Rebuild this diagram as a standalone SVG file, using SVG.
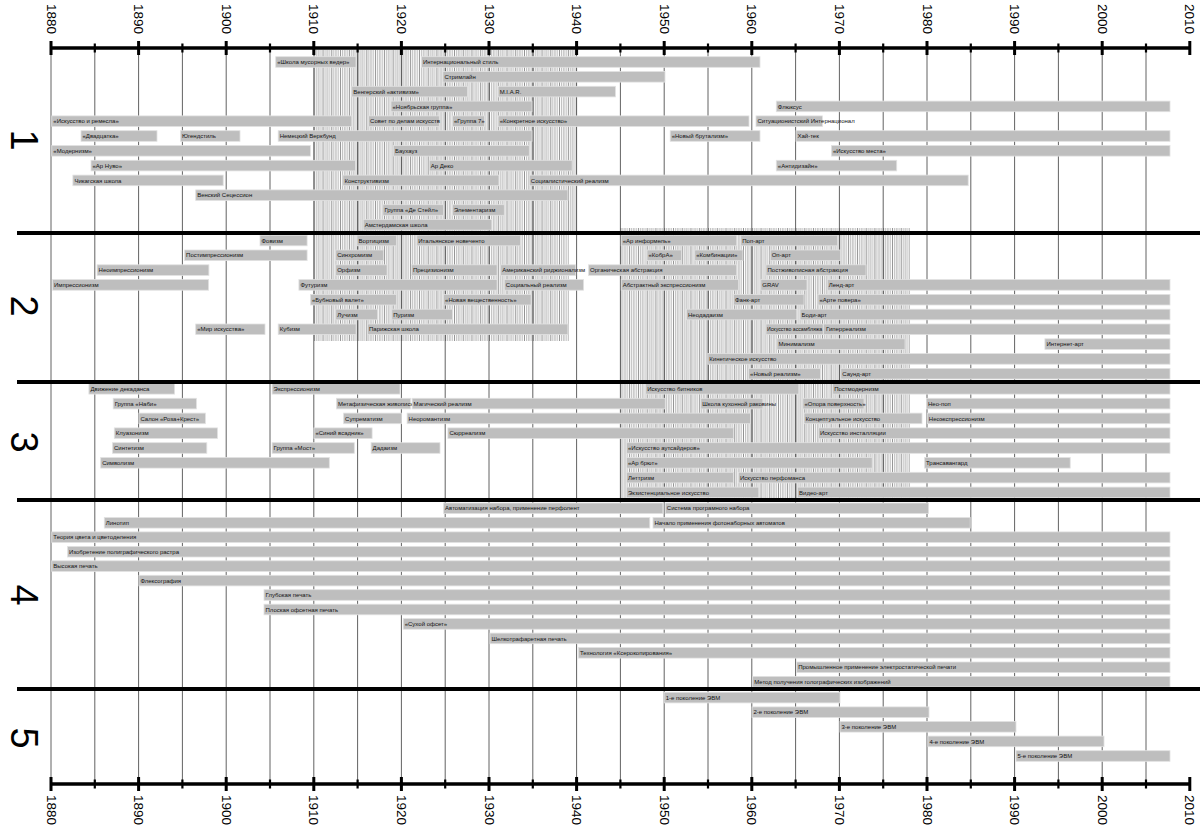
<svg xmlns="http://www.w3.org/2000/svg" width="1200" height="827" viewBox="0 0 1200 827">
<style>
.b rect{fill:#bebebe;stroke:#e2e2e2;stroke-width:0.8}
.b text{font-family:"Liberation Sans",Arial,sans-serif;font-size:6px;fill:#111}
.b text.sm{font-size:5.2px}
.yr{font-family:"Liberation Sans",Arial,sans-serif;font-size:13.5px;fill:#000;dominant-baseline:central}
.num{font-family:"Liberation Sans",Arial,sans-serif;font-size:38px;fill:#000;text-anchor:middle;dominant-baseline:central}
.grid{stroke:#3a3a3a;stroke-width:0.8;fill:none}
.div{stroke:#000;stroke-width:4}
.axis{stroke:#000;stroke-width:3.5}
.maj{stroke:#000;stroke-width:3}
.min{stroke:#000;stroke-width:2.2}
</style>
<defs>
<pattern id="hatch" x="51" y="0" width="8.76" height="20" patternUnits="userSpaceOnUse">
<line x1="0.4" y1="0" x2="0.4" y2="20" stroke="#333" stroke-width="0.6"/>
<line x1="2.6" y1="0" x2="2.6" y2="20" stroke="#888" stroke-width="0.6"/>
<line x1="4.8" y1="0" x2="4.8" y2="20" stroke="#666" stroke-width="0.6"/>
<line x1="7" y1="0" x2="7" y2="20" stroke="#888" stroke-width="0.6"/>
</pattern>
</defs>
<rect width="1200" height="827" fill="#fff"/>
<g id="hatching">
<rect x="314" y="50" width="263" height="182" fill="url(#hatch)"/>
<rect x="314" y="235" width="254.6" height="106" fill="url(#hatch)"/>
<rect x="620.4" y="228" width="289.6" height="272" fill="url(#hatch)"/>
</g>
<g id="gridlines">
<path class="grid" d="M51 48V784M94.8 48V784M138.6 48V784M182.4 48V784M226.2 48V784M270 48V784M313.8 48V784M357.6 48V784M401.4 48V784M445.2 48V784M489 48V784M532.8 48V784M576.6 48V784M620.4 48V784M664.2 48V784M708 48V784M751.8 48V784M795.6 48V784M839.4 48V784M883.2 48V784M927 48V784M970.8 48V784M1014.6 48V784M1058.4 48V784M1102.2 48V784M1146 48V784"/>
</g>
<g id="connectors"></g>
<g id="section1">
<g id="s1_ashcan" class="b" transform="translate(0,62)"><rect x="275.7" y="-5.3" width="80.3" height="10.6"/><text x="277.2" y="2.1">«Школа мусорных ведер»</text></g>
<g id="s1_intl" class="b" transform="translate(0,62)"><rect x="421.4" y="-5.3" width="338.6" height="10.6"/><text x="422.9" y="2.1">Интернациональный стиль</text></g>
<g id="s1_stream" class="b" transform="translate(0,76.8)"><rect x="442.9" y="-5.3" width="222.1" height="10.6"/><text x="444.4" y="2.1">Стримлайн</text></g>
<g id="s1_hung" class="b" transform="translate(0,91.6)"><rect x="351.8" y="-5.3" width="115.7" height="10.6"/><text x="353.3" y="2.1">Венгерский «активизм»</text></g>
<g id="s1_miar" class="b" transform="translate(0,91.6)"><rect x="498.2" y="-5.3" width="117.3" height="10.6"/><text x="499.7" y="2.1">M.I.A.R.</text></g>
<g id="s1_nov" class="b" transform="translate(0,106.4)"><rect x="391" y="-5.3" width="141" height="10.6"/><text x="392.5" y="2.1">«Ноябрьская группа»</text></g>
<g id="s1_fluxus" class="b" transform="translate(0,106.4)"><rect x="776.3" y="-5.3" width="393.7" height="10.6"/><text x="777.8" y="2.1">Флюксус</text></g>
<g id="s1_arts" class="b" transform="translate(0,121.2)"><rect x="51.8" y="-5.3" width="300" height="10.6"/><text x="53.3" y="2.1">«Искусство и ремесла»</text></g>
<g id="s1_sovet" class="b" transform="translate(0,121.2)"><rect x="368.6" y="-5.3" width="70.7" height="10.6"/><text x="370.1" y="2.1">Совет по делам искусств</text></g>
<g id="s1_g7" class="b" transform="translate(0,121.2)"><rect x="452.5" y="-5.3" width="32.1" height="10.6"/><text x="454" y="2.1">«Группа 7»</text></g>
<g id="s1_konk" class="b" transform="translate(0,121.2)"><rect x="498.2" y="-5.3" width="250.8" height="10.6"/><text x="499.7" y="2.1">«Конкретное искусство»</text></g>
<g id="s1_situ" class="b" transform="translate(0,121.2)"><rect x="756" y="-5.3" width="66.4" height="10.6"/><text x="757.5" y="2.1">Ситуационистский Интернационал</text></g>
<g id="s1_20" class="b" transform="translate(0,136)"><rect x="81" y="-5.3" width="76" height="10.6"/><text x="82.5" y="2.1">«Двадцатка»</text></g>
<g id="s1_jugend" class="b" transform="translate(0,136)"><rect x="180.4" y="-5.3" width="59.6" height="10.6"/><text x="181.9" y="2.1">Югендстиль</text></g>
<g id="s1_werk" class="b" transform="translate(0,136)"><rect x="278.2" y="-5.3" width="253.8" height="10.6"/><text x="279.7" y="2.1">Немецкий Веркбунд</text></g>
<g id="s1_brut" class="b" transform="translate(0,136)"><rect x="670.2" y="-5.3" width="89.8" height="10.6"/><text x="671.7" y="2.1">«Новый брутализм»</text></g>
<g id="s1_hitech" class="b" transform="translate(0,136)"><rect x="796" y="-5.3" width="374" height="10.6"/><text x="797.5" y="2.1">Хай-тек</text></g>
<g id="s1_modern" class="b" transform="translate(0,150.8)"><rect x="51.8" y="-5.3" width="258.6" height="10.6"/><text x="53.3" y="2.1">«Модернизм»</text></g>
<g id="s1_bauhaus" class="b" transform="translate(0,150.8)"><rect x="393.6" y="-5.3" width="135.7" height="10.6"/><text x="395.1" y="2.1">Баухауз</text></g>
<g id="s1_site" class="b" transform="translate(0,150.8)"><rect x="831.4" y="-5.3" width="338.6" height="10.6"/><text x="832.9" y="2.1">«Искусство места»</text></g>
<g id="s1_nouveau" class="b" transform="translate(0,165.6)"><rect x="91" y="-5.3" width="264.4" height="10.6"/><text x="92.5" y="2.1">«Ар Нуво»</text></g>
<g id="s1_deco" class="b" transform="translate(0,165.6)"><rect x="429.3" y="-5.3" width="142.8" height="10.6"/><text x="430.8" y="2.1">Ар Деко</text></g>
<g id="s1_anti" class="b" transform="translate(0,165.6)"><rect x="776.3" y="-5.3" width="120.4" height="10.6"/><text x="777.8" y="2.1">«Антидизайн»</text></g>
<g id="s1_chicago" class="b" transform="translate(0,180.4)"><rect x="72.9" y="-5.3" width="150.3" height="10.6"/><text x="74.4" y="2.1">Чикагская школа</text></g>
<g id="s1_constr" class="b" transform="translate(0,180.4)"><rect x="342.9" y="-5.3" width="156" height="10.6"/><text x="344.4" y="2.1">Конструктивизм</text></g>
<g id="s1_socreal" class="b" transform="translate(0,180.4)"><rect x="529.3" y="-5.3" width="438.9" height="10.6"/><text x="530.8" y="2.1">Социалистический реализм</text></g>
<g id="s1_secession" class="b" transform="translate(0,195.2)"><rect x="195.7" y="-5.3" width="372.2" height="10.6"/><text x="197.2" y="2.1">Венский Сецессион</text></g>
<g id="s1_stijl" class="b" transform="translate(0,210)"><rect x="382.9" y="-5.3" width="60.7" height="10.6"/><text x="384.4" y="2.1">Группа «Де Стейл»</text></g>
<g id="s1_elem" class="b" transform="translate(0,210)"><rect x="452.5" y="-5.3" width="51.8" height="10.6"/><text x="454" y="2.1">Элементаризм</text></g>
<g id="s1_amst" class="b" transform="translate(0,224.8)"><rect x="363.2" y="-5.3" width="128.6" height="10.6"/><text x="364.7" y="2.1">Амстердамская школа</text></g>
</g>
<g id="section2">
<g id="s2_fauv" class="b" transform="translate(0,240.5)"><rect x="260" y="-5.3" width="47.1" height="10.6"/><text x="261.5" y="2.1">Фовизм</text></g>
<g id="s2_vort" class="b" transform="translate(0,240.5)"><rect x="357.1" y="-5.3" width="39.3" height="10.6"/><text x="358.6" y="2.1">Вортицизм</text></g>
<g id="s2_nov" class="b" transform="translate(0,240.5)"><rect x="416.8" y="-5.3" width="103.6" height="10.6"/><text x="418.3" y="2.1">Итальянское новеченто</text></g>
<g id="s2_inf" class="b" transform="translate(0,240.5)"><rect x="621.2" y="-5.3" width="115.5" height="10.6"/><text x="622.7" y="2.1">«Ар информель»</text></g>
<g id="s2_pop" class="b" transform="translate(0,240.5)"><rect x="740.8" y="-5.3" width="96.8" height="10.6"/><text x="742.3" y="2.1">Поп-арт</text></g>
<g id="s2_postimp" class="b" transform="translate(0,255.3)"><rect x="184.6" y="-5.3" width="122.5" height="10.6"/><text x="186.1" y="2.1">Постимпрессионизм</text></g>
<g id="s2_synch" class="b" transform="translate(0,255.3)"><rect x="335.7" y="-5.3" width="47.9" height="10.6"/><text x="337.2" y="2.1">Синхромизм</text></g>
<g id="s2_cobra" class="b" transform="translate(0,255.3)"><rect x="647" y="-5.3" width="34.6" height="10.6"/><text x="648.5" y="2.1">«КобрА»</text></g>
<g id="s2_comb" class="b" transform="translate(0,255.3)"><rect x="694.7" y="-5.3" width="48.2" height="10.6"/><text x="696.2" y="2.1">«Комбинации»</text></g>
<g id="s2_op" class="b" transform="translate(0,255.3)"><rect x="770.2" y="-5.3" width="70.2" height="10.6"/><text x="771.7" y="2.1">Оп-арт</text></g>
<g id="s2_neoimp" class="b" transform="translate(0,270.1)"><rect x="97.1" y="-5.3" width="111.8" height="10.6"/><text x="98.6" y="2.1">Неоимпрессионизм</text></g>
<g id="s2_orph" class="b" transform="translate(0,270.1)"><rect x="335.7" y="-5.3" width="51.4" height="10.6"/><text x="337.2" y="2.1">Орфизм</text></g>
<g id="s2_prec" class="b" transform="translate(0,270.1)"><rect x="411.4" y="-5.3" width="85.7" height="10.6"/><text x="412.9" y="2.1">Прецизионизм</text></g>
<g id="s2_amreg" class="b" transform="translate(0,270.1)"><rect x="500.7" y="-5.3" width="75" height="10.6"/><text x="502.2" y="2.1">Американский риджионализм</text></g>
<g id="s2_org" class="b" transform="translate(0,270.1)"><rect x="588.6" y="-5.3" width="148.1" height="10.6"/><text x="590.1" y="2.1">Органическая абстракция</text></g>
<g id="s2_postpaint" class="b" transform="translate(0,270.1)"><rect x="766" y="-5.3" width="100" height="10.6"/><text x="767.5" y="2.1">Постживописная абстракция</text></g>
<g id="s2_imp" class="b" transform="translate(0,284.9)"><rect x="52.5" y="-5.3" width="156.1" height="10.6"/><text x="54" y="2.1">Импрессионизм</text></g>
<g id="s2_fut" class="b" transform="translate(0,284.9)"><rect x="298.9" y="-5.3" width="198.2" height="10.6"/><text x="300.4" y="2.1">Футуризм</text></g>
<g id="s2_socr" class="b" transform="translate(0,284.9)"><rect x="504.3" y="-5.3" width="79.3" height="10.6"/><text x="505.8" y="2.1">Социальный реализм</text></g>
<g id="s2_abex" class="b" transform="translate(0,284.9)"><rect x="621.2" y="-5.3" width="117.2" height="10.6"/><text x="622.7" y="2.1">Абстрактный экспрессионизм</text></g>
<g id="s2_grav" class="b" transform="translate(0,284.9)"><rect x="760.8" y="-5.3" width="46.2" height="10.6"/><text x="762.3" y="2.1">GRAV</text></g>
<g id="s2_land" class="b" transform="translate(0,284.9)"><rect x="827.3" y="-5.3" width="342.7" height="10.6"/><text x="828.8" y="2.1">Ленд-арт</text></g>
<g id="s2_jack" class="b" transform="translate(0,299.7)"><rect x="310.4" y="-5.3" width="86" height="10.6"/><text x="311.9" y="2.1">«Бубновый валет»</text></g>
<g id="s2_sachl" class="b" transform="translate(0,299.7)"><rect x="443.6" y="-5.3" width="87.5" height="10.6"/><text x="445.1" y="2.1">«Новая вещественность»</text></g>
<g id="s2_funk" class="b" transform="translate(0,299.7)"><rect x="733.5" y="-5.3" width="70.5" height="10.6"/><text x="735" y="2.1">Фанк-арт</text></g>
<g id="s2_povera" class="b" transform="translate(0,299.7)"><rect x="818" y="-5.3" width="352" height="10.6"/><text x="819.5" y="2.1">«Арте повера»</text></g>
<g id="s2_ray" class="b" transform="translate(0,314.5)"><rect x="335.7" y="-5.3" width="41.8" height="10.6"/><text x="337.2" y="2.1">Лучизм</text></g>
<g id="s2_pur" class="b" transform="translate(0,314.5)"><rect x="391.8" y="-5.3" width="60.7" height="10.6"/><text x="393.3" y="2.1">Пуризм</text></g>
<g id="s2_neodada" class="b" transform="translate(0,314.5)"><rect x="686.5" y="-5.3" width="110.2" height="10.6"/><text x="688" y="2.1">Неодадаизм</text></g>
<g id="s2_body" class="b" transform="translate(0,314.5)"><rect x="800" y="-5.3" width="370" height="10.6"/><text x="801.5" y="2.1">Боди-арт</text></g>
<g id="s2_mir" class="b" transform="translate(0,329.3)"><rect x="195.7" y="-5.3" width="69.3" height="10.6"/><text x="197.2" y="2.1">«Мир искусства»</text></g>
<g id="s2_cub" class="b" transform="translate(0,329.3)"><rect x="278.2" y="-5.3" width="77.9" height="10.6"/><text x="279.7" y="2.1">Кубизм</text></g>
<g id="s2_paris" class="b" transform="translate(0,329.3)"><rect x="367.5" y="-5.3" width="200.4" height="10.6"/><text x="369" y="2.1">Парижская школа</text></g>
<g id="s2_assem" class="b" transform="translate(0,329.3)"><rect x="766" y="-5.3" width="57.3" height="10.6"/><text class="sm" x="767" y="2">Искусство ассамбляжа</text></g>
<g id="s2_hyper" class="b" transform="translate(0,329.3)"><rect x="823.3" y="-5.3" width="346.7" height="10.6"/><text x="826" y="2.1">Гиперреализм</text></g>
<g id="s2_min" class="b" transform="translate(0,344.1)"><rect x="777" y="-5.3" width="128" height="10.6"/><text x="778.5" y="2.1">Минимализм</text></g>
<g id="s2_net" class="b" transform="translate(0,344.1)"><rect x="1044.9" y="-5.3" width="125.1" height="10.6"/><text x="1046.4" y="2.1">Интернет-арт</text></g>
<g id="s2_kin" class="b" transform="translate(0,358.9)"><rect x="707.8" y="-5.3" width="462.2" height="10.6"/><text x="709.3" y="2.1">Кинетическое искусство</text></g>
<g id="s2_nreal" class="b" transform="translate(0,373.7)"><rect x="748.6" y="-5.3" width="71.8" height="10.6"/><text x="750.1" y="2.1">«Новый реализм»</text></g>
<g id="s2_sound" class="b" transform="translate(0,373.7)"><rect x="840.8" y="-5.3" width="329.2" height="10.6"/><text x="842.3" y="2.1">Саунд-арт</text></g>
</g>
<g id="section3">
<g id="s3_dec" class="b" transform="translate(0,388.8)"><rect x="88.9" y="-5.3" width="85.7" height="10.6"/><text x="90.4" y="2.1">Движение декаданса</text></g>
<g id="s3_expr" class="b" transform="translate(0,388.8)"><rect x="272.1" y="-5.3" width="127.9" height="10.6"/><text x="273.6" y="2.1">Экспрессионизм</text></g>
<g id="s3_beat" class="b" transform="translate(0,388.8)"><rect x="645.7" y="-5.3" width="153.1" height="10.6"/><text x="647.2" y="2.1">Искусство битников</text></g>
<g id="s3_postmod" class="b" transform="translate(0,388.8)"><rect x="832.7" y="-5.3" width="337.3" height="10.6"/><text x="834.2" y="2.1">Постмодернизм</text></g>
<g id="s3_nabi" class="b" transform="translate(0,403.6)"><rect x="113.2" y="-5.3" width="83.2" height="10.6"/><text x="114.7" y="2.1">Группа «Наби»</text></g>
<g id="s3_meta" class="b" transform="translate(0,403.6)"><rect x="336.4" y="-5.3" width="74.3" height="10.6"/><text x="337.9" y="2.1">Метафизическая живопись</text></g>
<g id="s3_magic" class="b" transform="translate(0,403.6)"><rect x="412.1" y="-5.3" width="253.2" height="10.6"/><text x="413.6" y="2.1">Магический реализм</text></g>
<g id="s3_kitchen" class="b" transform="translate(0,403.6)"><rect x="700.8" y="-5.3" width="62.1" height="10.6"/><text x="702.3" y="2.1">Школа кухонной раковины</text></g>
<g id="s3_support" class="b" transform="translate(0,403.6)"><rect x="802.9" y="-5.3" width="61.1" height="10.6"/><text x="804.4" y="2.1">«Опора поверхность»</text></g>
<g id="s3_neopop" class="b" transform="translate(0,403.6)"><rect x="926.5" y="-5.3" width="243.5" height="10.6"/><text x="928" y="2.1">Нео-поп</text></g>
<g id="s3_rose" class="b" transform="translate(0,418.4)"><rect x="138.9" y="-5.3" width="66.5" height="10.6"/><text x="140.4" y="2.1">Салон «Роза+Крест»</text></g>
<g id="s3_supr" class="b" transform="translate(0,418.4)"><rect x="343.6" y="-5.3" width="57.8" height="10.6"/><text x="345.1" y="2.1">Супрематизм</text></g>
<g id="s3_neorom" class="b" transform="translate(0,418.4)"><rect x="407.1" y="-5.3" width="343.5" height="10.6"/><text x="408.6" y="2.1">Неоромантизм</text></g>
<g id="s3_concept" class="b" transform="translate(0,418.4)"><rect x="804" y="-5.3" width="118" height="10.6"/><text x="805.5" y="2.1">Концептуальное искусство</text></g>
<g id="s3_neoexp" class="b" transform="translate(0,418.4)"><rect x="927.3" y="-5.3" width="242.7" height="10.6"/><text x="928.8" y="2.1">Неоэкспрессионизм</text></g>
<g id="s3_cloi" class="b" transform="translate(0,433.2)"><rect x="114.3" y="-5.3" width="103.2" height="10.6"/><text x="115.8" y="2.1">Клуазонизм</text></g>
<g id="s3_blue" class="b" transform="translate(0,433.2)"><rect x="313.9" y="-5.3" width="58.2" height="10.6"/><text x="315.4" y="2.1">«Синий всадник»</text></g>
<g id="s3_surr" class="b" transform="translate(0,433.2)"><rect x="447.9" y="-5.3" width="285.6" height="10.6"/><text x="449.4" y="2.1">Сюрреализм</text></g>
<g id="s3_inst" class="b" transform="translate(0,433.2)"><rect x="818.4" y="-5.3" width="351.6" height="10.6"/><text x="819.9" y="2.1">Искусство инсталляции</text></g>
<g id="s3_synt" class="b" transform="translate(0,448)"><rect x="112.5" y="-5.3" width="94.3" height="10.6"/><text x="114" y="2.1">Синтетизм</text></g>
<g id="s3_most" class="b" transform="translate(0,448)"><rect x="272.1" y="-5.3" width="82.2" height="10.6"/><text x="273.6" y="2.1">Группа «Мост»</text></g>
<g id="s3_dada" class="b" transform="translate(0,448)"><rect x="371.1" y="-5.3" width="68.9" height="10.6"/><text x="372.6" y="2.1">Дадаизм</text></g>
<g id="s3_outs" class="b" transform="translate(0,448)"><rect x="626.5" y="-5.3" width="543.5" height="10.6"/><text x="628" y="2.1">«Искусство аутсайдеров»</text></g>
<g id="s3_symb" class="b" transform="translate(0,462.8)"><rect x="100.7" y="-5.3" width="228.6" height="10.6"/><text x="102.2" y="2.1">Символизм</text></g>
<g id="s3_brut" class="b" transform="translate(0,462.8)"><rect x="626.5" y="-5.3" width="245.7" height="10.6"/><text x="628" y="2.1">«Ар брют»</text></g>
<g id="s3_trans" class="b" transform="translate(0,462.8)"><rect x="924.5" y="-5.3" width="145.7" height="10.6"/><text x="926" y="2.1">Трансавангард</text></g>
<g id="s3_lett" class="b" transform="translate(0,477.6)"><rect x="626.5" y="-5.3" width="107" height="10.6"/><text x="628" y="2.1">Леттризм</text></g>
<g id="s3_perf" class="b" transform="translate(0,477.6)"><rect x="738.4" y="-5.3" width="431.6" height="10.6"/><text x="739.9" y="2.1">Искусство перфоманса</text></g>
<g id="s3_exist" class="b" transform="translate(0,492.4)"><rect x="626.5" y="-5.3" width="132.3" height="10.6"/><text x="628" y="2.1">Экзистенциальное искусство</text></g>
<g id="s3_video" class="b" transform="translate(0,492.4)"><rect x="797.6" y="-5.3" width="372.4" height="10.6"/><text x="799.1" y="2.1">Видео-арт</text></g>
</g>
<g id="section4">
<g id="s4_auto" class="b" transform="translate(0,508.3)"><rect x="443.6" y="-5.3" width="219.3" height="10.6"/><text x="445.1" y="2.1">Автоматизация набора, применение перфолент</text></g>
<g id="s4_prog" class="b" transform="translate(0,508.3)"><rect x="665.3" y="-5.3" width="263.3" height="10.6"/><text x="666.8" y="2.1">Система програмного набора</text></g>
<g id="s4_lino" class="b" transform="translate(0,522.8)"><rect x="104.3" y="-5.3" width="545.5" height="10.6"/><text x="105.8" y="2.1">Линотип</text></g>
<g id="s4_photo" class="b" transform="translate(0,522.8)"><rect x="653" y="-5.3" width="317.2" height="10.6"/><text x="654.5" y="2.1">Начало применения фотонаборных автоматов</text></g>
<g id="s4_color" class="b" transform="translate(0,537.2)"><rect x="51.8" y="-5.3" width="1118.2" height="10.6"/><text x="53.3" y="2.1">Теория цвета и цветоделения</text></g>
<g id="s4_raster" class="b" transform="translate(0,551.7)"><rect x="67.5" y="-5.3" width="1102.5" height="10.6"/><text x="69" y="2.1">Изобретение полиграфического растра</text></g>
<g id="s4_letter" class="b" transform="translate(0,566.1)"><rect x="51.8" y="-5.3" width="1118.2" height="10.6"/><text x="53.3" y="2.1">Высокая печать</text></g>
<g id="s4_flexo" class="b" transform="translate(0,580.6)"><rect x="138.9" y="-5.3" width="1031.1" height="10.6"/><text x="140.4" y="2.1">Флексография</text></g>
<g id="s4_gravure" class="b" transform="translate(0,595)"><rect x="264" y="-5.3" width="906" height="10.6"/><text x="265.5" y="2.1">Глубокая печать</text></g>
<g id="s4_offset" class="b" transform="translate(0,609.5)"><rect x="264" y="-5.3" width="906" height="10.6"/><text x="265.5" y="2.1">Плоская офсетная печать</text></g>
<g id="s4_dry" class="b" transform="translate(0,623.9)"><rect x="403.2" y="-5.3" width="766.8" height="10.6"/><text x="404.7" y="2.1">«Сухой офсет»</text></g>
<g id="s4_silk" class="b" transform="translate(0,638.4)"><rect x="490" y="-5.3" width="680" height="10.6"/><text x="491.5" y="2.1">Шелкотрафаретная печать</text></g>
<g id="s4_xerox" class="b" transform="translate(0,652.8)"><rect x="578.4" y="-5.3" width="591.6" height="10.6"/><text x="579.9" y="2.1">Технология «Ксерокопирования»</text></g>
<g id="s4_electro" class="b" transform="translate(0,667.3)"><rect x="796.7" y="-5.3" width="373.3" height="10.6"/><text x="798.2" y="2.1">Промышленное применение электростатической печати</text></g>
<g id="s4_holo" class="b" transform="translate(0,681.7)"><rect x="752.7" y="-5.3" width="417.3" height="10.6"/><text x="754.2" y="2.1">Метод получения голографических изображений</text></g>
</g>
<g id="section5">
<g id="s5_g1" class="b" transform="translate(0,697.6)"><rect x="664.2" y="-5.3" width="175.8" height="10.6"/><text x="665.7" y="2.1">1-е поколение ЭВМ</text></g>
<g id="s5_g2" class="b" transform="translate(0,712.2)"><rect x="752" y="-5.3" width="177" height="10.6"/><text x="753.5" y="2.1">2-е поколение ЭВМ</text></g>
<g id="s5_g3" class="b" transform="translate(0,726.8)"><rect x="840" y="-5.3" width="176" height="10.6"/><text x="841.5" y="2.1">3-е поколение ЭВМ</text></g>
<g id="s5_g4" class="b" transform="translate(0,741.4)"><rect x="928" y="-5.3" width="176" height="10.6"/><text x="929.5" y="2.1">4-е поколение ЭВМ</text></g>
<g id="s5_g5" class="b" transform="translate(0,756)"><rect x="1016" y="-5.3" width="154" height="10.6"/><text x="1017.5" y="2.1">5-е поколение ЭВМ</text></g>
</g>
<g id="dividers">
<path class="div" d="M17 233H1200M17 382H1200M17 500H1200M17 689H1200"/>
</g>
<g id="axis-top">
<path class="axis" d="M51 48H1189.8"/>
<path class="maj" d="M51 41V55M138.6 41V55M226.2 41V55M313.8 41V55M401.4 41V55M489 41V55M576.6 41V55M664.2 41V55M751.8 41V55M839.4 41V55M927 41V55M1014.6 41V55M1102.2 41V55M1189.8 41V55"/>
<path class="min" d="M94.8 43.5V52.5M182.4 43.5V52.5M270 43.5V52.5M357.6 43.5V52.5M445.2 43.5V52.5M532.8 43.5V52.5M620.4 43.5V52.5M708 43.5V52.5M795.6 43.5V52.5M883.2 43.5V52.5M970.8 43.5V52.5M1058.4 43.5V52.5M1146 43.5V52.5"/>
<text class="yr" transform="translate(51,4) rotate(90)">1880</text>
<text class="yr" transform="translate(138.6,4) rotate(90)">1890</text>
<text class="yr" transform="translate(226.2,4) rotate(90)">1900</text>
<text class="yr" transform="translate(313.8,4) rotate(90)">1910</text>
<text class="yr" transform="translate(401.4,4) rotate(90)">1920</text>
<text class="yr" transform="translate(489,4) rotate(90)">1930</text>
<text class="yr" transform="translate(576.6,4) rotate(90)">1940</text>
<text class="yr" transform="translate(664.2,4) rotate(90)">1950</text>
<text class="yr" transform="translate(751.8,4) rotate(90)">1960</text>
<text class="yr" transform="translate(839.4,4) rotate(90)">1970</text>
<text class="yr" transform="translate(927,4) rotate(90)">1980</text>
<text class="yr" transform="translate(1014.6,4) rotate(90)">1990</text>
<text class="yr" transform="translate(1102.2,4) rotate(90)">2000</text>
<text class="yr" transform="translate(1189.8,4) rotate(90)">2010</text>
</g>
<g id="axis-bottom">
<path class="axis" d="M51 784H1189.8"/>
<path class="maj" d="M51 777V791M138.6 777V791M226.2 777V791M313.8 777V791M401.4 777V791M489 777V791M576.6 777V791M664.2 777V791M751.8 777V791M839.4 777V791M927 777V791M1014.6 777V791M1102.2 777V791M1189.8 777V791"/>
<path class="min" d="M94.8 779.5V788.5M182.4 779.5V788.5M270 779.5V788.5M357.6 779.5V788.5M445.2 779.5V788.5M532.8 779.5V788.5M620.4 779.5V788.5M708 779.5V788.5M795.6 779.5V788.5M883.2 779.5V788.5M970.8 779.5V788.5M1058.4 779.5V788.5M1146 779.5V788.5"/>
<text class="yr" transform="translate(51,795) rotate(90)">1880</text>
<text class="yr" transform="translate(138.6,795) rotate(90)">1890</text>
<text class="yr" transform="translate(226.2,795) rotate(90)">1900</text>
<text class="yr" transform="translate(313.8,795) rotate(90)">1910</text>
<text class="yr" transform="translate(401.4,795) rotate(90)">1920</text>
<text class="yr" transform="translate(489,795) rotate(90)">1930</text>
<text class="yr" transform="translate(576.6,795) rotate(90)">1940</text>
<text class="yr" transform="translate(664.2,795) rotate(90)">1950</text>
<text class="yr" transform="translate(751.8,795) rotate(90)">1960</text>
<text class="yr" transform="translate(839.4,795) rotate(90)">1970</text>
<text class="yr" transform="translate(927,795) rotate(90)">1980</text>
<text class="yr" transform="translate(1014.6,795) rotate(90)">1990</text>
<text class="yr" transform="translate(1102.2,795) rotate(90)">2000</text>
<text class="yr" transform="translate(1189.8,795) rotate(90)">2010</text>
</g>
<g id="section-numbers">
<text class="num" transform="translate(24,140) rotate(90)">1</text>
<text class="num" transform="translate(24,306) rotate(90)">2</text>
<text class="num" transform="translate(24,442) rotate(90)">3</text>
<text class="num" transform="translate(24,595) rotate(90)">4</text>
<text class="num" transform="translate(24,738) rotate(90)">5</text>
</g>
</svg>
